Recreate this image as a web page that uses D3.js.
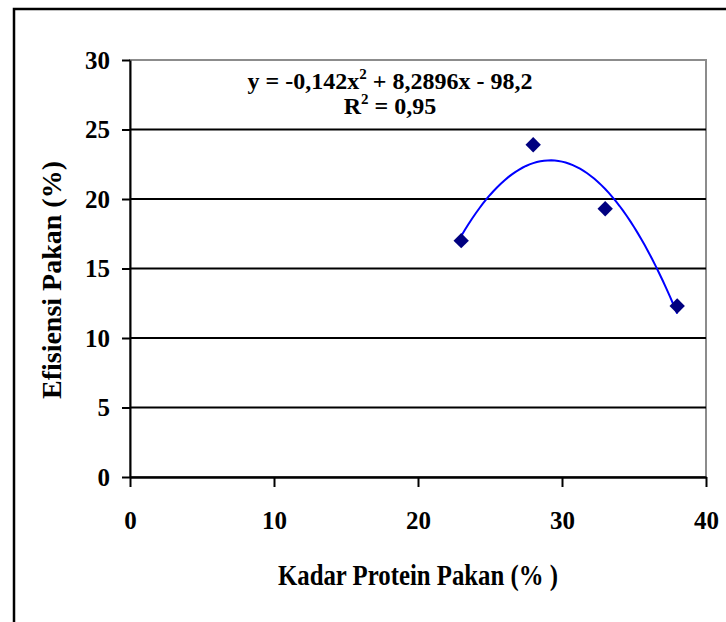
<!DOCTYPE html>
<html>
<head>
<meta charset="utf-8">
<script src="https://cdn.jsdelivr.net/npm/d3@7"></script>
<style>
  html, body { margin: 0; padding: 0; background: #fff; }
  svg { display: block; }
  text { font-family: "Liberation Serif", "Times New Roman", serif; font-weight: bold; fill: #000; }
</style>
</head>
<body>
<svg id="chart" width="726" height="622"></svg>
<script>
// ---- data ----
const proteinLevels = [23, 28, 33, 38];          // Kadar Protein Pakan (%)
const feedEfficiency = [17.0, 23.9, 19.3, 12.3]; // Efisiensi Pakan (%)
const xTicks = [0, 10, 20, 30, 40];
const yTicks = [0, 5, 10, 15, 20, 25, 30];
const trendCoefficients = [-0.142, 8.2896, -98.2]; // a, b, c of the fitted polynomial
const trendRange = [23, 38];
const equationLine = ["y = -0,142x", "2", " + 8,2896x - 98,2"];
const r2Line = ["R", "2", " = 0,95"];
const xTitle = "Kadar Protein Pakan (% )";
const yTitle = "Efisiensi Pakan (%)";

// ---- layout ----
const svg = d3.select("#chart");
const plot = { left: 130, right: 706, top: 60, bottom: 477 };

const x = d3.scaleLinear().domain([0, 40]).range([plot.left, plot.right]);
const y = d3.scaleLinear().domain([0, 30]).range([plot.bottom, plot.top]);

// outer frame
svg.append("rect")
  .attr("x", 14).attr("y", 9)
  .attr("width", 800).attr("height", 700)
  .attr("fill", "none").attr("stroke", "#000").attr("stroke-width", 2.5);

// plot border (gray top/right)
svg.append("rect")
  .attr("x", plot.left).attr("y", plot.top)
  .attr("width", plot.right - plot.left).attr("height", plot.bottom - plot.top)
  .attr("fill", "#fff").attr("stroke", "#8c8c8c").attr("stroke-width", 2);

// gridlines
svg.append("g").selectAll("line")
  .data(yTicks.filter(d => d > 0 && d < 30))
  .join("line")
  .attr("x1", plot.left).attr("x2", plot.right)
  .attr("y1", d => y(d)).attr("y2", d => y(d))
  .attr("stroke", "#000").attr("stroke-width", 2);

// y axis
const yAxis = svg.append("g")
  .attr("transform", `translate(${plot.left},0)`)
  .call(d3.axisLeft(y).tickValues(yTicks).tickSize(8).tickPadding(12).tickSizeOuter(0));
yAxis.select(".domain").attr("stroke", "#000").attr("stroke-width", 2);
yAxis.selectAll(".tick line").attr("stroke", "#000").attr("stroke-width", 2);
yAxis.selectAll(".tick text")
  .attr("font-family", "Liberation Serif").attr("font-weight", "bold")
  .attr("font-size", 25).attr("fill", "#000");

// x axis
const xAxis = svg.append("g")
  .attr("transform", `translate(0,${plot.bottom})`)
  .call(d3.axisBottom(x).tickValues(xTicks).tickSize(10).tickPadding(24).tickSizeOuter(0));
xAxis.select(".domain").attr("stroke", "#000").attr("stroke-width", 2.5);
xAxis.selectAll(".tick line").attr("stroke", "#000").attr("stroke-width", 2);
xAxis.selectAll(".tick text")
  .attr("font-family", "Liberation Serif").attr("font-weight", "bold")
  .attr("font-size", 25).attr("fill", "#000");

// trend line
const [a, b, c] = trendCoefficients;
const trendXs = d3.range(trendRange[0], trendRange[1] + 0.0001, 0.25);
const line = d3.line().x(d => x(d)).y(d => y(a * d * d + b * d + c));
svg.append("path")
  .datum(trendXs)
  .attr("d", line)
  .attr("fill", "none").attr("stroke", "#0000ff").attr("stroke-width", 2);

// markers
const pts = proteinLevels.map((v, i) => [v, feedEfficiency[i]]);
svg.append("g").selectAll("path")
  .data(pts)
  .join("path")
  .attr("transform", d => `translate(${x(d[0])},${y(d[1])})`)
  .attr("d", d3.symbol().type(d3.symbolDiamond2 || d3.symbolDiamond).size(150))
  .attr("fill", "#000080");

// equation label
function supText(sel, parts, px, py) {
  const t = sel.append("text").attr("x", px).attr("y", py)
    .attr("text-anchor", "middle").attr("font-size", 24);
  t.append("tspan").text(parts[0]);
  t.append("tspan").attr("font-size", 15).attr("dy", -10).text(parts[1]);
  t.append("tspan").attr("dy", 10).text(parts[2]);
}
supText(svg, equationLine, 390, 89);
supText(svg, r2Line, 390, 114);

// axis titles
svg.append("text")
  .attr("x", (plot.left + plot.right) / 2).attr("y", 585)
  .attr("text-anchor", "middle").attr("font-size", 30)
  .attr("textLength", 280).attr("lengthAdjust", "spacingAndGlyphs")
  .text(xTitle);

svg.append("text")
  .attr("transform", "translate(61,280) rotate(-90)")
  .attr("text-anchor", "middle").attr("font-size", 28)
  .attr("textLength", 238).attr("lengthAdjust", "spacingAndGlyphs")
  .text(yTitle);
</script>
</body>
</html>
